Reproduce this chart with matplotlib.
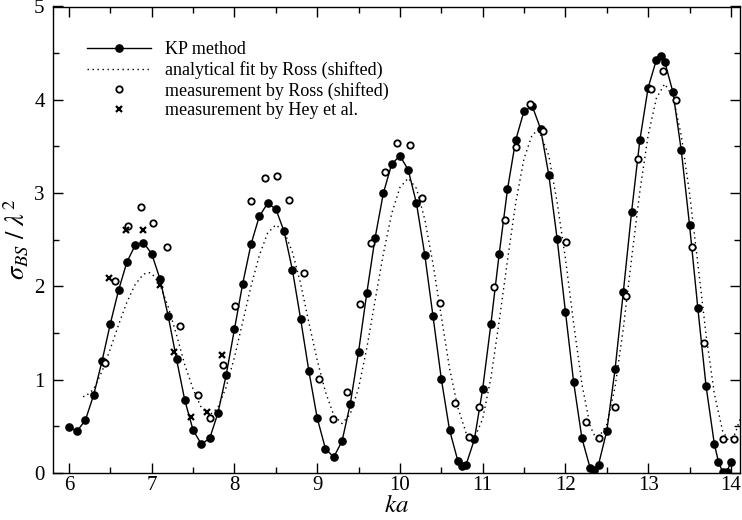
import matplotlib
matplotlib.use("Agg")
import matplotlib.pyplot as plt
from matplotlib.ticker import MultipleLocator

# KP method (filled circles, solid line)
kp_ka = [6.0, 6.1, 6.2, 6.3, 6.4, 6.5, 6.6, 6.7, 6.8, 6.9,
         7.0, 7.1, 7.2, 7.3, 7.4, 7.5, 7.6, 7.7, 7.8, 7.9,
         8.0, 8.1, 8.2, 8.3, 8.4, 8.5, 8.6, 8.7, 8.8, 8.9,
         9.0, 9.1, 9.2, 9.3, 9.4, 9.5, 9.6, 9.7, 9.8, 9.9,
         10.0, 10.1, 10.2, 10.3, 10.4, 10.5, 10.6, 10.7, 10.75, 10.8, 10.9,
         11.0, 11.1, 11.2, 11.3, 11.4, 11.5, 11.6, 11.7, 11.8, 11.9,
         12.0, 12.1, 12.2, 12.3, 12.35, 12.4, 12.5, 12.6, 12.7, 12.8, 12.9,
         13.0, 13.1, 13.15, 13.2, 13.3, 13.4, 13.5, 13.6, 13.7, 13.8,
         13.85, 13.9, 13.95, 14.0]
kp_sigma = [0.49, 0.45, 0.57, 0.84, 1.20, 1.60, 1.96, 2.26, 2.44, 2.47,
            2.35, 2.08, 1.68, 1.22, 0.78, 0.46, 0.31, 0.37, 0.64, 1.05,
            1.54, 2.03, 2.45, 2.75, 2.89, 2.83, 2.59, 2.18, 1.65, 1.09,
            0.59, 0.26, 0.17, 0.34, 0.74, 1.30, 1.93, 2.52, 3.00, 3.31,
            3.40, 3.25, 2.89, 2.34, 1.68, 1.01, 0.46, 0.13, 0.07, 0.09, 0.36,
            0.90, 1.60, 2.35, 3.04, 3.57, 3.88, 3.93, 3.69, 3.19, 2.51,
            1.73, 0.97, 0.37, 0.05, 0.03, 0.09, 0.45, 1.11, 1.94, 2.80, 3.57,
            4.13, 4.43, 4.47, 4.41, 4.08, 3.46, 2.66, 1.77, 0.93, 0.31,
            0.12, 0.01, 0.01, 0.12]

# analytical fit by Ross (shifted), dotted
fit_ka = [6.17, 6.2, 6.3, 6.4, 6.5, 6.6, 6.7, 6.8, 6.9, 6.96,
          7.0, 7.1, 7.2, 7.3, 7.4, 7.5, 7.6, 7.7,
          7.8, 7.9, 8.0, 8.1, 8.2, 8.3, 8.4, 8.5,
          8.6, 8.7, 8.8, 8.9, 9.0, 9.1, 9.2, 9.3,
          9.4, 9.5, 9.6, 9.7, 9.8, 9.9, 10.0, 10.1,
          10.2, 10.3, 10.4, 10.5, 10.6, 10.7, 10.8, 10.87,
          10.9, 11.0, 11.1, 11.2, 11.3, 11.4, 11.5, 11.6, 11.68,
          11.8, 11.9, 12.0, 12.1, 12.2, 12.3, 12.38,
          12.5, 12.6, 12.7, 12.8, 12.9, 13.0, 13.1, 13.2,
          13.3, 13.4, 13.5, 13.6, 13.7, 13.8, 13.9, 13.97, 14.05, 14.12]
fit_sigma = [0.82, 0.82, 0.90, 1.09, 1.33, 1.59, 1.83, 2.02, 2.13, 2.15,
             2.14, 2.02, 1.78, 1.48, 1.16, 0.90, 0.70, 0.62,
             0.70, 0.92, 1.24, 1.62, 2.00, 2.33, 2.57, 2.66,
             2.59, 2.37, 2.03, 1.61, 1.21, 0.87, 0.62, 0.53,
             0.63, 0.91, 1.34, 1.85, 2.35, 2.78, 3.06, 3.16,
             3.05, 2.72, 2.24, 1.68, 1.12, 0.70, 0.43, 0.36,
             0.37, 0.58, 1.02, 1.63, 2.28, 2.90, 3.37, 3.63, 3.67,
             3.40, 2.90, 2.30, 1.60, 0.95, 0.50, 0.35,
             0.52, 0.92, 1.55, 2.30, 3.02, 3.62, 4.02, 4.17,
             4.03, 3.62, 3.00, 2.25, 1.48, 0.85, 0.45, 0.35, 0.42, 0.60]

# measurement by Ross (shifted), open circles
ross_ka = [6.44, 6.56, 6.71, 6.87, 7.02, 7.19, 7.34, 7.56, 7.70, 7.86,
           8.01, 8.20, 8.37, 8.51, 8.66, 8.84, 9.02, 9.19, 9.36, 9.52,
           9.65, 9.82, 9.96, 10.12, 10.27, 10.49, 10.67, 10.84, 10.96, 11.14,
           11.27, 11.40, 11.57, 11.73, 12.01, 12.25, 12.40, 12.60, 12.73, 12.88,
           13.04, 13.18, 13.34, 13.53, 13.68, 13.90, 14.04]
ross_sigma = [1.18, 2.06, 2.65, 2.85, 2.68, 2.42, 1.58, 0.84, 0.59, 1.16,
              1.79, 2.92, 3.16, 3.18, 2.93, 2.14, 1.01, 0.58, 0.87, 1.81,
              2.47, 3.23, 3.54, 3.52, 2.95, 1.82, 0.75, 0.39, 0.71, 1.99,
              2.71, 3.49, 3.96, 3.67, 2.48, 0.55, 0.37, 0.71, 1.90, 3.37,
              4.12, 4.31, 4.00, 2.42, 1.39, 0.36, 0.36]

# measurement by Hey et al., crosses
hey_ka = [6.49, 6.69, 6.90, 7.10, 7.27, 7.47, 7.67, 7.85]
hey_sigma = [2.09, 2.60, 2.60, 2.01, 1.30, 0.60, 0.65, 1.27]

plt.rcParams["font.family"] = ["Liberation Serif", "DejaVu Serif"]
plt.rcParams["mathtext.fontset"] = "stix"

fig = plt.figure(figsize=(7.42, 5.2), dpi=100)
ax = fig.add_axes([0.0714, 0.0904, 0.9259, 0.8971])

ax.plot(kp_ka, kp_sigma, "-o", color="black", lw=1.0, ms=5.2,
        label="KP method", zorder=3)
ax.plot(fit_ka, fit_sigma, color="black", lw=1.0, ls=(0, (1, 2.6)),
        label="analytical fit by Ross (shifted)", zorder=2)
ax.plot(ross_ka, ross_sigma, "o", mfc="white", mec="black", mew=1.3,
        ms=4.6, label="measurement by Ross (shifted)", zorder=4)
ax.plot(hey_ka, hey_sigma, "x", color="black", mew=1.6, ms=4.2,
        label="measurement by Hey et al.", zorder=4)

ax.set_xlim(5.807, 14.11)
ax.set_ylim(0, 5)
ax.xaxis.set_major_locator(MultipleLocator(1))
ax.xaxis.set_minor_locator(MultipleLocator(0.5))
ax.yaxis.set_major_locator(MultipleLocator(1))
ax.yaxis.set_minor_locator(MultipleLocator(0.5))
ax.tick_params(which="both", direction="in", top=True, right=True,
               labelsize=15, width=1.0)
ax.tick_params(which="major", length=7)
ax.tick_params(axis="x", which="major", pad=2)
ax.tick_params(axis="y", which="major", pad=6)
ax.tick_params(which="minor", length=4)
for sp in ax.spines.values():
    sp.set_linewidth(1.0)

ax.set_xlabel(r"$ka$", fontsize=18, labelpad=0)
ax.set_ylabel(r"$\sigma_{BS}\ /\ \lambda^2$", fontsize=19, labelpad=2)

ax.legend(loc="upper left", bbox_to_anchor=(0.05, 0.925), frameon=False,
          fontsize=13, handlelength=3.5, handletextpad=0.8,
          labelspacing=0.15, borderaxespad=0, borderpad=0)

fig.savefig("out.png", dpi=100)
